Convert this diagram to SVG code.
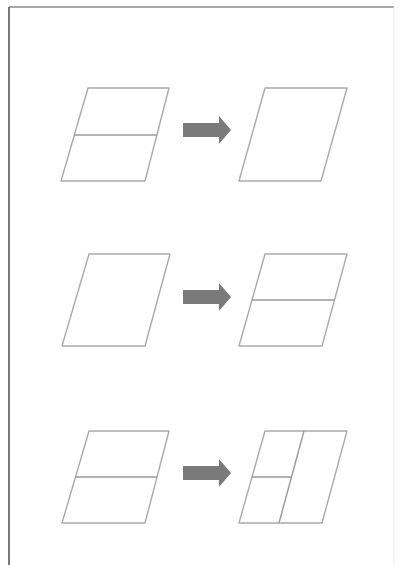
<svg xmlns="http://www.w3.org/2000/svg" width="400" height="565" viewBox="0 0 400 565">
<style>
.p{fill:none;stroke:#aaaaaa;stroke-width:1.4;stroke-linejoin:round}
.l{fill:none;stroke:#999999;stroke-width:1.4}
.a{fill:#7a7a7a}
</style>
<defs>
<path id="arrow" d="M0,-7 H36 V-14 L48,0 L36,14 V7 H0 Z"/>
</defs>
<rect x="0" y="0" width="400" height="565" fill="#ffffff"/>
<line x1="9" y1="7" x2="394" y2="7" stroke="#8a8a8a" stroke-width="1.5"/>
<line x1="9" y1="7" x2="9" y2="565" stroke="#777777" stroke-width="2"/>
<line x1="394" y1="7" x2="394" y2="565" stroke="#ececec" stroke-width="1"/>
<g id="r1-left">
<path class="p" d="M88,88 H169 L145,181 H61 Z"/>
<line class="l" x1="74" y1="135" x2="157" y2="135"/>
</g>
<g id="r1-right">
<path class="p" d="M265,88 H347 L321,181 H239 Z"/>
</g>
<g id="r2-left">
<path class="p" d="M89,254 H170 L145,346 H62 Z"/>
</g>
<g id="r2-right">
<path class="p" d="M265,254 H347 L322,346 H239 Z"/>
<line class="l" x1="252" y1="300" x2="334" y2="300"/>
</g>
<g id="r3-left">
<path class="p" d="M89,431 H169 L145,523 H62 Z"/>
<line class="l" x1="75" y1="477" x2="157" y2="477"/>
</g>
<g id="r3-right">
<path class="p" d="M265,431 H347 L322,523 H239 Z"/>
<line class="l" x1="304" y1="431" x2="279" y2="523"/>
<line class="l" x1="252" y1="477" x2="292" y2="477"/>
</g>
<g id="connectors">
<use href="#arrow" class="a" x="183" y="130"/>
<use href="#arrow" class="a" x="183" y="297"/>
<use href="#arrow" class="a" x="183" y="473"/>
</g>
</svg>
